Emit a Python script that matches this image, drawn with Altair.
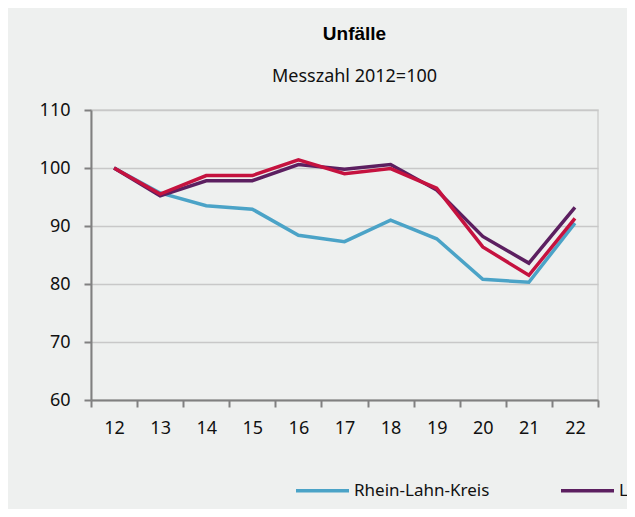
import altair as alt
import pandas as pd

years = ["12", "13", "14", "15", "16", "17", "18", "19", "20", "21", "22"]
rhein_lahn = [100, 95.7, 93.5, 92.9, 88.4, 87.3, 91.0, 87.8, 80.8, 80.3, 90.5]
landkreise = [100, 95.2, 97.8, 97.8, 100.6, 99.8, 100.6, 96.2, 88.2, 83.6, 93.2]
rlp = [100, 95.5, 98.7, 98.7, 101.4, 99.0, 99.9, 96.5, 86.4, 81.5, 91.3]
series_names = ["Rhein-Lahn-Kreis", "Landkreise", "Rheinland-Pfalz"]
colors = ["#4ba3c7", "#5c1f60", "#c5123f"]

rows = []
for name, vals in zip(series_names, [rhein_lahn, landkreise, rlp]):
    for y, v in zip(years, vals):
        rows.append({"Jahr": y, "Wert": v, "Reihe": name})
df = pd.DataFrame(rows)

FONT = "Noto Sans"

chart = alt.Chart(df).mark_line(strokeWidth=3.5).encode(
    x=alt.X("Jahr:O", sort=years, bandPosition=0.5,
            scale=alt.Scale(type="band", paddingInner=0, paddingOuter=0),
            axis=alt.Axis(title=None, labelAngle=0, tickBand="extent", grid=False,
                          domainColor="#808080", domainWidth=2, tickColor="#808080",
                          tickWidth=2, tickSize=7, labelPadding=12, labelFontSize=18,
                          labelFont=FONT, labelColor="#111111")),
    y=alt.Y("Wert:Q", scale=alt.Scale(domain=[60, 110], nice=False, zero=False),
            axis=alt.Axis(title=None, values=[60, 70, 80, 90, 100, 110], grid=True,
                          gridColor="#c8c8c8", gridWidth=1.5, domainColor="#808080",
                          domainWidth=2, tickColor="#808080", tickWidth=2, tickSize=7,
                          labelPadding=14, labelFontSize=18, labelFont=FONT,
                          labelColor="#111111")),
    color=alt.Color("Reihe:N", sort=series_names,
                    scale=alt.Scale(domain=series_names, range=colors),
                    legend=alt.Legend(title=None, orient="none", legendX=203, legendY=352,
                                      direction="horizontal", symbolType="stroke",
                                      symbolSize=2809, symbolStrokeWidth=3.5,
                                      labelOffset=3, labelFontSize=17, labelFont=FONT,
                                      labelColor="#111111", columnPadding=64,
                                      padding=0, labelLimit=400)),
).properties(
    width=507,
    height=290,
    title=alt.TitleParams(text="Unfälle", subtitle="Messzahl 2012=100", anchor="middle",
                          font="Liberation Sans", fontSize=19, fontWeight="bold",
                          color="#000000", subtitleFont=FONT, subtitleFontSize=18,
                          subtitleColor="#111111", subtitlePadding=24, offset=15, dx=10),
    background="#eef0ef",
    autosize=alt.AutoSizeParams(type="none"),
    padding={"left": 83, "top": 102, "right": 29, "bottom": 109},
).configure_view(stroke="#d0d0d0", strokeWidth=1.5)

chart.save("out.html", embed_options={"renderer": "svg", "actions": False})
